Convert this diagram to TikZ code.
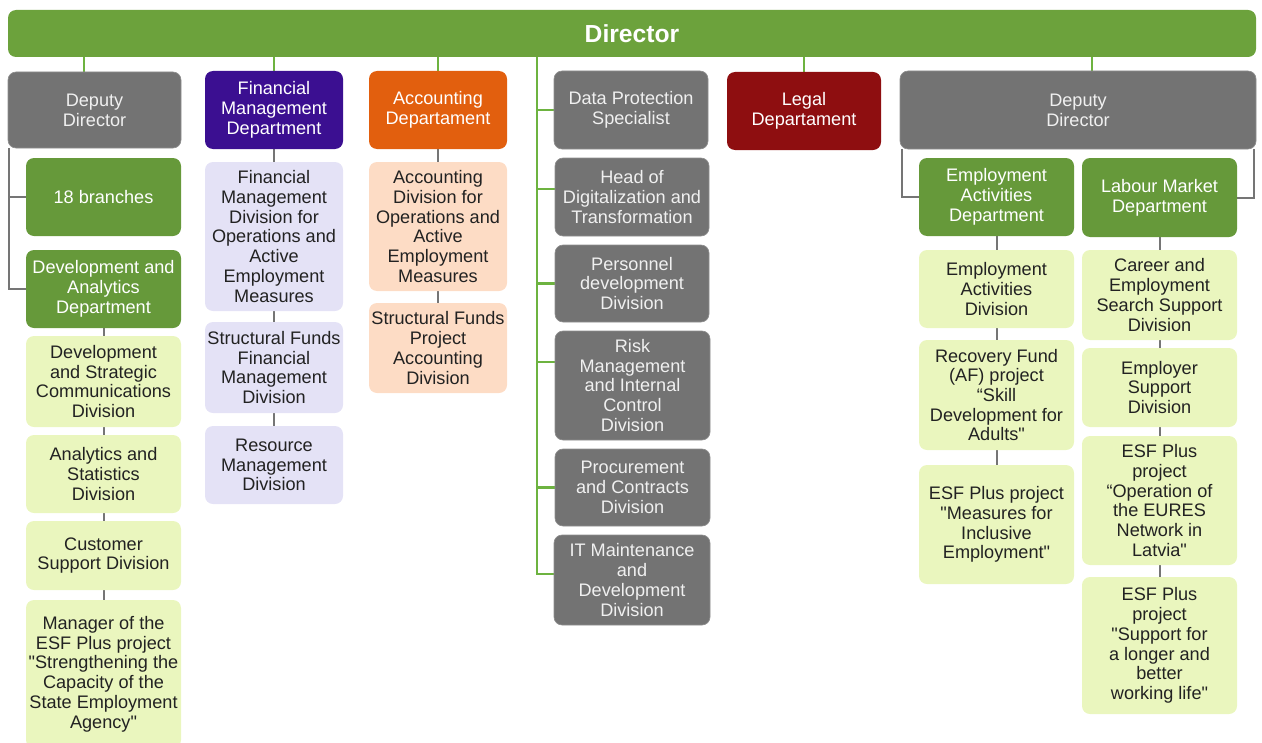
\documentclass[tikz,border=0pt]{standalone}
\usepackage{fontspec}
\setmainfont{Liberation Sans}
\usetikzlibrary{backgrounds}

\definecolor{dirgreen}{HTML}{6CA23C}
\definecolor{deptgreen}{HTML}{66993A}
\definecolor{linegreen}{HTML}{6DB340}
\definecolor{boxgray}{HTML}{737373}
\definecolor{linegray}{HTML}{757575}
\definecolor{fmpurple}{HTML}{3B0F91}
\definecolor{accorange}{HTML}{E25F0E}
\definecolor{legalred}{HTML}{8E0E10}
\definecolor{lightgreen}{HTML}{EAF6BE}
\definecolor{lavender}{HTML}{E4E2F6}
\definecolor{peach}{HTML}{FDDCC5}
\definecolor{darktext}{HTML}{222222}

\tikzset{
  base/.style={rounded corners=6pt, inner sep=0pt, align=center,
    font=\fontsize{13.6}{14.8}\selectfont},
  graybox/.style={base, fill=boxgray, draw=boxgray!80!white, line width=0.5pt, text=white!94!black},
  greenbox/.style={base, fill=deptgreen, text=white},
  purplebox/.style={base, fill=fmpurple, text=white},
  orangebox/.style={base, fill=accorange, text=white},
  redbox/.style={base, fill=legalred, text=white},
  lgbox/.style={base, fill=lightgreen, text=darktext},
  lavbox/.style={base, fill=lavender, text=darktext},
  peachbox/.style={base, fill=peach, text=darktext},
  gline/.style={draw=linegreen, line width=1.6pt},
  yline/.style={draw=linegray, line width=1.5pt},
}

% box given by its top-left and bottom-right corners (pixel grid, 1px = 0.75pt)
\newcommand\bx[7]{%
  \pgfmathsetmacro\bxw{(#5-#3)*0.75}%
  \pgfmathsetmacro\bxh{(#6-#4)*0.75}%
  \node[#1, minimum width=\bxw pt, minimum height=\bxh pt]
    (#2) at ({(#3+#5)/2},{(#4+#6)/2}) {#7};}
\newcommand\qd{\textquotedbl}

\begin{document}
\begin{tikzpicture}[x=0.75pt, y=-0.75pt]
\useasboundingbox (0,0) rectangle (1262,742);

% top level
\bx{base, fill=dirgreen, text=white, font=\fontsize{18.5}{20}\selectfont\bfseries}{dir}{8}{10}{1256}{57}{Director}

% first row
\bx{graybox}{ldep}{8}{72}{181}{148}{Deputy\\Director}
\bx{purplebox}{fmd}{205}{71}{343}{149}{Financial\\Management\\Department}
\bx{orangebox}{acc}{369}{71}{507}{149}{Accounting\\Departament}
\bx{graybox}{dps}{554}{71}{708}{149}{Data Protection\\Specialist}
\bx{redbox}{legal}{727}{72}{881}{150}{Legal\\Departament}
\bx{graybox}{rdep}{900}{71}{1256}{149}{Deputy\\Director}

% left deputy director
\bx{greenbox}{br}{26}{158}{181}{236}{18 branches}
\bx{greenbox}{dad}{26}{250}{181}{328}{Development and\\Analytics\\Department}
\bx{lgbox}{dsc}{26}{336}{181}{427}{Development\\and Strategic\\Communications\\Division}
\bx{lgbox}{asd}{26}{435}{181}{513}{Analytics and\\Statistics\\Division}
\bx{lgbox}{csd}{26}{521}{181}{590}{Customer\\Support Division}
\bx{lgbox}{mgr}{26}{600}{181}{748}{Manager of the\\ESF Plus project\\\qd Strengthening the\\Capacity of the\\State Employment\\Agency\qd}

% financial management
\bx{lavbox}{fmd1}{205}{162}{343}{311}{Financial\\Management\\Division for\\Operations and\\Active\\Employment\\Measures}
\bx{lavbox}{fmd2}{205}{322}{343}{413}{Structural Funds\\Financial\\Management\\Division}
\bx{lavbox}{fmd3}{205}{426}{343}{504}{Resource\\Management\\Division}

% accounting
\bx{peachbox}{acc1}{369}{162}{507}{291}{Accounting\\Division for\\Operations and\\Active\\Employment\\Measures}
\bx{peachbox}{acc2}{369}{303}{507}{393}{Structural Funds\\Project\\Accounting\\Division}

% units reporting directly
\bx{graybox}{hdt}{555}{158}{709}{236}{Head of\\Digitalization and\\Transformation}
\bx{graybox}{pdd}{555}{245}{709}{322}{Personnel\\development\\Division}
\bx{graybox}{rmd}{555}{331}{710}{440}{Risk\\Management\\and Internal\\Control\\Division}
\bx{graybox}{pcd}{555}{449}{710}{526}{Procurement\\and Contracts\\Division}
\bx{graybox}{itm}{554}{535}{710}{625}{IT Maintenance\\and\\Development\\Division}

% right deputy director
\bx{greenbox}{ead}{919}{158}{1074}{236}{Employment\\Activities\\Department}
\bx{greenbox}{lmd}{1082}{158}{1237}{237}{Labour Market\\Department}
\bx{lgbox}{ead1}{919}{250}{1074}{328}{Employment\\Activities\\Division}
\bx{lgbox}{ead2}{919}{340}{1074}{450}{Recovery Fund\\(AF) project\\“Skill\\Development for\\Adults\qd}
\bx{lgbox}{ead3}{919}{465}{1074}{584}{ESF Plus project\\\qd Measures for\\Inclusive\\Employment\qd}
\bx{lgbox}{lmd1}{1082}{250}{1237}{340}{Career and\\Employment\\Search Support\\Division}
\bx{lgbox}{lmd2}{1082}{348}{1237}{427}{Employer\\Support\\Division}
\bx{lgbox}{lmd3}{1082}{436}{1237}{565}{ESF Plus\\project\\“Operation of\\the EURES\\Network in\\Latvia\qd}
\bx{lgbox}{lmd4}{1082}{577}{1237}{714}{ESF Plus\\project\\\qd Support for\\a longer and\\better\\working life\qd}

% attachment points
\coordinate (ldeptop) at ([xshift=-7.9pt]ldep.north);
\coordinate (rdeptop) at ([xshift=10.5pt]rdep.north);
\coordinate (tk) at (537,0);
\coordinate (hdtb) at ([yshift=6pt]hdt.west);
\coordinate (rmdb) at ([yshift=17.6pt]rmd.west);
\coordinate (itmb) at ([yshift=4.5pt]itm.west);

\begin{pgfonlayer}{background}
  % from the director
  \draw[gline] (dir.south -| ldeptop) -- (ldeptop);
  \draw[gline] (dir.south -| fmd.north) -- (fmd.north);
  \draw[gline] (dir.south -| acc.north) -- (acc.north);
  \draw[gline] (dir.south -| legal.north) -- (legal.north);
  \draw[gline] (dir.south -| rdeptop) -- (rdeptop);
  \draw[gline] (dir.south -| tk) -- (tk |- itmb) -- (itmb);
  \draw[gline] (tk |- dps.west) -- (dps.west);
  \draw[gline] (tk |- hdtb) -- (hdtb);
  \draw[gline] (tk |- pdd.west) -- (pdd.west);
  \draw[gline] (tk |- rmdb) -- (rmdb);
  \draw[gline] (tk |- pcd.west) -- (pcd.west);

  % left deputy director
  \draw[yline] ([xshift=1pt]ldep.south west) |- (br.west);
  \draw[yline] ([xshift=1pt]ldep.south west) |- (dad.west);
  \draw[yline] (dad.south) -- (dsc.north);
  \draw[yline] (dsc.south) -- (asd.north);
  \draw[yline] (asd.south) -- (csd.north);
  \draw[yline] (csd.south) -- (mgr.north);

  % departments
  \draw[yline] (fmd.south) -- (fmd1.north);
  \draw[yline] (fmd1.south) -- (fmd2.north);
  \draw[yline] (fmd2.south) -- (fmd3.north);
  \draw[yline] (acc.south) -- (acc1.north);
  \draw[yline] (acc1.south) -- (acc2.north);

  % right deputy director
  \draw[yline] ([xshift=1.5pt]rdep.south west) |- (ead.west);
  \draw[yline] ([xshift=-1.5pt]rdep.south east) |- (lmd.east);
  \draw[yline] (ead.south) -- (ead1.north);
  \draw[yline] (ead1.south) -- (ead2.north);
  \draw[yline] (ead2.south) -- (ead3.north);
  \draw[yline] (lmd.south) -- (lmd1.north);
  \draw[yline] (lmd1.south) -- (lmd2.north);
  \draw[yline] (lmd2.south) -- (lmd3.north);
  \draw[yline] (lmd3.south) -- (lmd4.north);
\end{pgfonlayer}
\end{tikzpicture}
\end{document}
